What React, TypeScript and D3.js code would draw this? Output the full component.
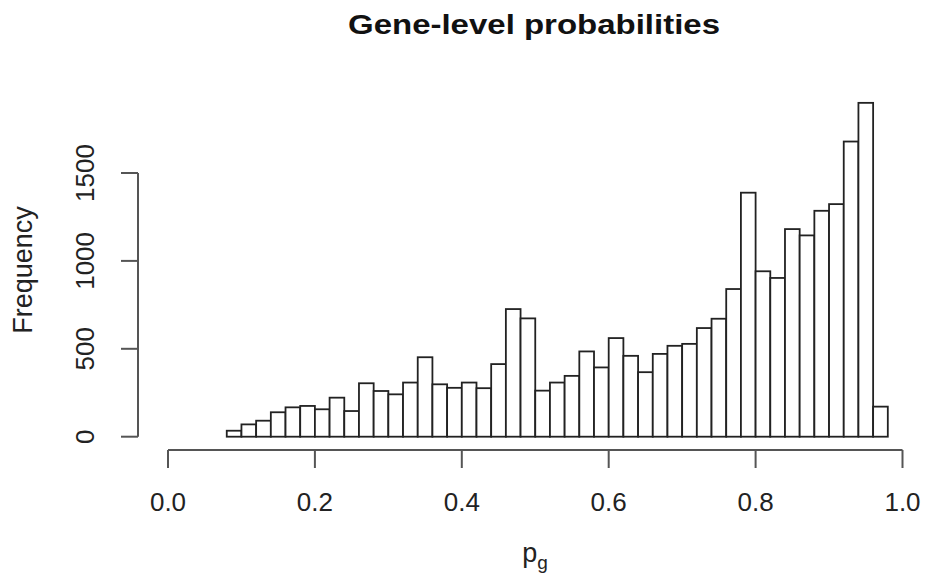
import React from "react";
import * as d3 from "d3";

// histogram of gene-level probabilities, bins of width 0.02 starting at 0.08
const binStart = 0.08;
const binWidth = 0.02;
const counts = [
  34, 70, 91, 139, 167, 175, 156, 222, 146, 304, 260, 241, 308, 452, 298,
  278, 308, 276, 413, 726, 673, 262, 308, 346, 485, 394, 561, 460, 367, 471,
  517, 528, 618, 671, 840, 1388, 941, 903, 1181, 1145, 1285, 1323, 1679, 1899,
  171, 0,
];
const xTicks = [0, 0.2, 0.4, 0.6, 0.8, 1.0];
const yTicks = [0, 500, 1000, 1500];
const title = "Gene-level probabilities";
const yLabel = "Frequency";

const W = 927;
const H = 585;

export default function App() {
  const x = d3.scaleLinear().domain([0, 1]).range([168, 902.5]);
  const y = d3.scaleLinear().domain([0, 1500]).range([436.7, 173]);

  const bins = counts.map((c, i) => ({
    x0: binStart + i * binWidth,
    x1: binStart + (i + 1) * binWidth,
    count: c,
  }));

  const font = "'Liberation Sans', Arial, sans-serif";
  const axisColor = "#555";

  return (
    <div>
      <style>{`body{margin:0}`}</style>
      <svg width={W} height={H} style={{ display: "block", background: "#fff" }}>
        {/* bars */}
        <g fill="#fff" stroke="#222" strokeWidth={1.8}>
          {bins.map((b, i) => (
            <rect
              key={i}
              x={x(b.x0)}
              y={y(b.count)}
              width={x(b.x1) - x(b.x0)}
              height={y(0) - y(b.count)}
            />
          ))}
        </g>

        {/* x axis */}
        <g stroke={axisColor} strokeWidth={2} fill="none">
          <line x1={x(0)} x2={x(1)} y1={450} y2={450} />
          {xTicks.map((t) => (
            <line key={t} x1={x(t)} x2={x(t)} y1={450} y2={468} />
          ))}
        </g>
        <g fontFamily={font} fontSize={26} fill="#222" textAnchor="middle">
          {xTicks.map((t) => (
            <text key={t} x={x(t)} y={511}>
              {d3.format(".1f")(t)}
            </text>
          ))}
        </g>

        {/* y axis */}
        <g stroke={axisColor} strokeWidth={2} fill="none">
          <line x1={138} x2={138} y1={y(0)} y2={y(1500)} />
          {yTicks.map((t) => (
            <line key={t} x1={121} x2={138} y1={y(t)} y2={y(t)} />
          ))}
        </g>
        <g fontFamily={font} fontSize={26} fill="#222" textAnchor="middle">
          {yTicks.map((t) => (
            <text key={t} transform={`translate(94,${y(t)}) rotate(-90)`}>
              {t}
            </text>
          ))}
        </g>

        {/* labels */}
        <text
          x={348}
          y={34}
          fontFamily={font}
          fontWeight="bold"
          fontSize={28}
          textLength={372}
          lengthAdjust="spacingAndGlyphs"
          fill="#111"
        >
          {title}
        </text>
        <text
          transform="translate(32,270) rotate(-90)"
          textAnchor="middle"
          fontFamily={font}
          fontSize={27}
          fill="#222"
        >
          {yLabel}
        </text>
        <text x={535} y={562} textAnchor="middle" fontFamily={font} fontSize={27} fill="#222">
          p
          <tspan fontSize={19} dy={7}>
            g
          </tspan>
        </text>
      </svg>
    </div>
  );
}
